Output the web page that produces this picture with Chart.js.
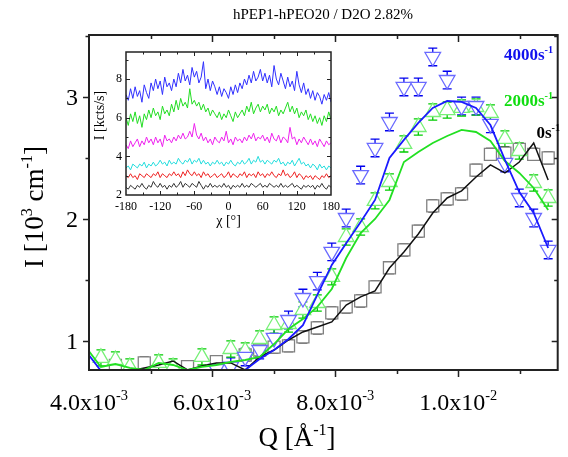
<!DOCTYPE html>
<html>
<head>
<meta charset="utf-8">
<script src="https://cdn.jsdelivr.net/npm/chart.js@4.4.1/dist/chart.umd.min.js"></script>
<style>
  html, body { margin:0; padding:0; background:#fff; }
  #wrap { position:relative; width:568px; height:457px; }
  #main { position:absolute; left:0; top:0; }
  #inset { position:absolute; left:86px; top:42px; }
</style>
</head>
<body>
<div id="wrap">
  <canvas id="main" width="568" height="457"></canvas>
  <canvas id="inset" width="254" height="190"></canvas>
</div>
<script>
/* ================= DATA (main) ================= */
const Q = [0.003960,0.004194,0.004429,0.004663,0.004898,0.005132,0.005366,0.005601,0.005835,0.006070,
           0.006304,0.006538,0.006773,0.007007,0.007242,0.007476,0.007710,0.007945,0.008179,0.008414,
           0.008648,0.008882,0.009117,0.009351,0.009586,0.009820,0.010054,0.010289,0.010523,0.010758,
           0.010992,0.011226,0.011461];

// 0 s-1 : squares + line
const sq0 = [null,null,0.80,null,0.82,null,null,0.79,null,0.83,
             null,0.885,0.926,0.95,0.96,1.033,1.107,1.23,1.279,1.328,
             1.443,1.60,1.746,1.90,2.107,2.164,2.205,2.40,2.53,2.54,
             2.57,2.53,2.50];
const line0 = [0.762,0.762,0.762,0.754,0.779,0.803,0.836,0.762,0.795,0.82,
               0.82,0.762,0.869,0.926,1.008,1.074,1.115,1.156,1.295,1.361,
               1.41,1.598,1.73,1.877,2.049,2.172,2.23,2.344,2.443,2.377,
               2.467,2.623,2.32];

// 2000 s-1 : up triangles + line
const tri2000 = [null,0.861,0.844,0.787,null,0.82,0.787,null,0.869,null,
                 0.934,0.918,1.016,1.131,1.139,1.254,1.311,1.525,1.852,1.934,
                 2.148,2.303,2.615,2.754,2.877,2.893,2.91,2.918,2.869,2.656,
                 2.557,2.295,2.172];
const line2000 = [0.943,0.787,0.811,0.779,0.762,0.82,0.803,0.762,0.787,0.803,
                  0.828,0.844,0.869,0.975,1.098,1.18,1.279,1.426,1.68,1.885,
                  2.0,2.156,2.467,2.549,2.623,2.68,2.73,2.713,2.639,2.475,
                  2.377,2.254,2.074];

// 4000 s-1 : down triangles + line
const tri4000 = [null,null,null,null,null,null,null,null,null,0.77,
                 0.79,0.869,0.926,1.025,1.172,1.352,1.49,1.73,2.008,2.36,
                 2.582,2.795,3.082,3.082,3.328,3.139,2.926,2.926,2.779,2.459,
                 2.172,2.008,1.746];
const line4000 = [0.91,0.755,0.755,0.755,0.755,0.755,0.755,0.755,0.755,0.755,
                  0.755,0.762,0.852,0.926,1.016,1.13,1.377,1.623,1.80,1.975,
                  2.156,2.50,2.648,2.787,2.91,2.967,2.959,2.91,2.77,2.484,
                  2.221,2.049,1.762];

const err0 = 0.048, err2000 = 0.066, err4000 = 0.072;

const yTicks = [1, 2, 3];
const xTicks = [0.004, 0.006, 0.008, 0.010];
const xTickBase = ["4.0x10", "6.0x10", "8.0x10", "1.0x10"];
const xTickExp  = ["-3", "-3", "-3", "-2"];

/* ================= DATA (inset) ================= */
const chi = [-180,-176,-172,-168,-164,-160,-156,-152,-148,-144,-140,-136,-132,-128,-124,-120,-116,-112,-108,-104,
             -100,-96,-92,-88,-84,-80,-76,-72,-68,-64,-60,-56,-52,-48,-44,-40,-36,-32,-28,-24,
             -20,-16,-12,-8,-4,0,4,8,12,16,20,24,28,32,36,40,44,48,52,56,
             60,64,68,72,76,80,84,88,92,96,100,104,108,112,116,120,124,128,132,136,
             140,144,148,152,156,160,164,168,172,176,180];

const azBlue = [7.2,6.9,7.5,7.0,7.6,7.1,7.4,6.8,7.7,7.3,7.0,
                7.8,7.4,8.0,7.5,7.9,7.2,8.1,7.6,7.8,7.4,
                8.0,7.6,8.3,7.8,8.5,7.9,8.2,7.7,8.6,8.1,
                8.4,7.8,8.1,8.9,7.5,8.0,7.4,7.9,7.6,7.2,
                7.6,7.1,7.5,7.3,7.0,7.6,7.2,7.7,7.3,7.8,
                7.5,8.0,7.7,8.2,7.8,8.4,7.9,8.1,8.5,7.9,
                8.3,7.8,8.2,7.6,8.7,8.0,7.7,8.3,7.9,7.5,
                8.1,7.6,7.9,7.4,8.4,7.7,7.3,7.8,7.2,7.5,
                7.0,7.4,6.9,7.3,7.1,6.7,7.2,6.9,7.3,6.8];
const azGreen = [6.0,5.6,6.2,5.8,6.3,5.7,6.1,5.5,6.2,5.9,6.4,
                 6.0,6.5,6.1,6.3,5.9,6.6,6.2,6.4,6.1,6.7,
                 6.3,6.9,6.4,7.0,6.6,6.8,6.5,7.5,6.7,6.9,
                 6.6,6.8,6.4,6.7,6.3,6.5,6.1,6.4,6.2,6.0,
                 6.3,5.9,6.2,6.0,6.4,6.1,5.8,6.3,6.0,6.2,
                 6.4,6.1,6.6,6.3,6.8,6.2,6.5,6.7,6.3,6.6,
                 6.4,6.7,6.2,6.5,6.3,6.6,6.1,6.4,6.2,6.5,
                 6.8,6.3,6.6,6.2,6.5,6.0,6.3,6.1,6.4,5.9,
                 6.2,5.8,6.1,5.7,6.0,5.6,6.1,5.8,6.3,5.9];
const azMagenta = [4.6,4.4,4.8,4.5,4.7,4.9,4.5,4.8,4.6,5.0,4.7,
                   4.9,4.6,5.0,4.7,4.9,4.5,5.1,4.8,4.9,4.7,
                   5.0,4.8,5.1,4.9,5.2,4.9,5.0,5.3,5.0,5.7,
                   5.1,4.9,5.2,4.8,5.0,4.7,4.9,4.6,5.0,4.8,
                   4.7,5.0,4.8,5.3,4.7,4.9,4.6,5.0,4.8,4.9,
                   4.7,5.0,4.8,5.1,4.9,5.2,4.8,5.0,4.9,5.1,
                   4.8,5.0,4.7,5.2,4.9,4.8,5.1,4.7,5.0,4.9,
                   4.7,5.5,4.9,5.0,4.6,4.9,4.7,5.0,4.8,4.6,
                   4.9,4.6,4.8,4.5,4.9,4.7,4.5,4.8,4.6,4.7];
const azCyan = [3.4,3.5,3.3,3.6,3.5,3.4,3.6,3.5,3.7,3.4,3.6,
                3.5,3.7,3.5,3.6,3.8,3.6,3.7,3.5,3.8,3.6,
                3.7,3.6,3.9,3.7,3.6,3.8,3.7,3.9,3.6,3.8,
                3.7,3.9,3.6,3.8,3.6,3.7,3.5,3.7,3.6,3.8,
                3.6,3.7,3.5,3.7,3.6,3.8,3.6,3.5,3.7,3.6,
                3.8,3.6,3.7,3.9,3.6,3.8,3.7,4.0,3.7,3.8,
                3.6,3.8,3.7,3.6,3.8,3.7,3.9,3.6,3.7,3.5,
                3.7,3.6,3.8,3.5,3.7,3.9,3.6,3.7,3.5,3.6,
                3.4,3.6,3.5,3.3,3.6,3.4,3.5,3.3,3.5,3.4];
const azRed = [3.0,2.9,3.1,2.9,3.0,2.8,3.1,3.0,2.9,3.1,3.0,
               2.9,3.1,3.0,3.2,2.9,3.1,3.0,2.9,3.1,3.0,
               3.2,3.0,3.1,2.9,3.2,3.0,3.3,3.1,3.0,3.2,
               3.0,3.1,2.9,3.2,3.0,3.1,2.9,3.0,3.1,2.9,
               3.0,3.1,2.9,3.0,3.2,2.9,3.1,3.0,2.9,3.1,
               3.0,3.2,2.9,3.1,3.0,3.1,2.9,3.2,3.0,3.1,
               2.9,3.1,3.0,3.2,3.0,2.9,3.1,3.0,3.3,3.0,
               3.1,2.9,3.0,3.2,2.9,3.1,3.0,2.8,3.0,2.9,
               3.0,2.8,3.0,2.9,2.8,3.0,2.9,3.1,2.9,3.0];
const azBlack = [2.4,2.3,2.5,2.4,2.3,2.5,2.4,2.6,2.4,2.3,2.5,
                 2.4,2.7,2.5,2.4,2.6,2.4,2.5,2.3,2.5,2.4,
                 2.6,2.4,2.5,2.7,2.4,2.6,2.5,2.4,2.6,2.5,
                 2.4,2.7,2.5,2.3,2.5,2.4,2.6,2.4,2.5,2.4,
                 2.5,2.4,2.6,2.4,2.5,2.3,2.5,2.4,2.5,2.4,
                 2.6,2.4,2.5,2.4,2.6,2.5,2.4,2.5,2.6,2.4,
                 2.5,2.4,2.6,2.5,2.4,2.5,2.4,2.6,2.4,2.5,
                 2.4,2.5,2.6,2.4,2.5,2.4,2.3,2.5,2.4,2.5,
                 2.4,2.5,2.3,2.5,2.4,2.6,2.4,2.3,2.5,2.4];

const insetYTicks = [2, 4, 6, 8];
const insetXTicks = [-180, -120, -60, 0, 60, 120, 180];

/* ================= HELPERS ================= */
const SERIF = '"Liberation Serif", "Times New Roman", serif';

function pts(xs, ys){
  const out = [];
  ys.forEach((v,i)=>{ if(v !== null) out.push({x:xs[i], y:v}); });
  return out;
}

// parts: [[text, isSup], ...]
function drawRich(ctx, parts, x, y, size, align, weight){
  const w8 = weight || "normal";
  let w = 0;
  parts.forEach(p=>{
    ctx.font = w8 + " " + (p[1] ? size*0.6 : size) + "px " + SERIF;
    w += ctx.measureText(p[0]).width;
  });
  let cx = align === "center" ? x - w/2 : align === "right" ? x - w : x;
  ctx.textAlign = "left";
  ctx.textBaseline = "alphabetic";
  parts.forEach(p=>{
    ctx.font = w8 + " " + (p[1] ? size*0.6 : size) + "px " + SERIF;
    ctx.fillText(p[0], cx, p[1] ? y - size*0.4 : y);
    cx += ctx.measureText(p[0]).width;
  });
}

/* ================= MAIN PLUGINS ================= */
const errorBars = {
  id: "errorBars",
  beforeDatasetsDraw(chart){
    const {ctx, chartArea:a, scales:{x, y}} = chart;
    ctx.save();
    ctx.beginPath();
    ctx.rect(a.left, a.top, a.right - a.left, a.bottom - a.top);
    ctx.clip();
    chart.data.datasets.forEach(ds=>{
      if(!ds.err) return;
      ctx.strokeStyle = ds.errColor;
      ctx.lineWidth = 1.3;
      ds.data.forEach(p=>{
        const px = x.getPixelForValue(p.x);
        const y0 = y.getPixelForValue(p.y - ds.err);
        const y1 = y.getPixelForValue(p.y + ds.err);
        ctx.beginPath();
        ctx.moveTo(px, y0); ctx.lineTo(px, y1);
        ctx.moveTo(px-4.5, y0); ctx.lineTo(px+4.5, y0);
        ctx.moveTo(px-4.5, y1); ctx.lineTo(px+4.5, y1);
        ctx.stroke();
      });
    });
    ctx.restore();
  }
};

const mainDecor = {
  id: "mainDecor",
  afterDraw(chart){
    const {ctx, chartArea:a, scales:{x, y}} = chart;
    ctx.save();
    ctx.strokeStyle = "#222";
    ctx.fillStyle = "#000";

    // ticks
    ctx.lineWidth = 1.5;
    ctx.beginPath();
    for(let v = 1; v <= 3.5; v += 0.5){
      const py = Math.round(y.getPixelForValue(v)) + 0.5;
      const len = Number.isInteger(v) ? 6 : 3.5;
      ctx.moveTo(a.left - len, py); ctx.lineTo(a.left, py);
      ctx.moveTo(a.right, py); ctx.lineTo(a.right - len, py);
    }
    for(let k = 5; k <= 11; k++){
      const px = Math.round(x.getPixelForValue(k/1000)) + 0.5;
      const len = k % 2 === 0 ? 7 : 4;
      ctx.moveTo(px, a.bottom); ctx.lineTo(px, a.bottom + len);
      ctx.moveTo(px, a.top); ctx.lineTo(px, a.top + len);
    }
    ctx.stroke();

    // frame
    ctx.lineWidth = 2;
    ctx.strokeRect(a.left, a.top, a.right - a.left, a.bottom - a.top);

    // tick labels
    ctx.textAlign = "right";
    ctx.textBaseline = "alphabetic";
    ctx.font = "24px " + SERIF;
    yTicks.forEach(v=>{
      ctx.fillText(String(v), 78, y.getPixelForValue(v) + 8);
    });
    xTicks.forEach((v,i)=>{
      drawRich(ctx, [[xTickBase[i], false], [xTickExp[i], true]], x.getPixelForValue(v), 410, 24, "center");
    });

    // axis titles
    drawRich(ctx, [["Q [", false], ["Å", false], ["-1", true], ["]", false]], 297, 446, 27, "center");
    ctx.save();
    ctx.translate(43, 207);
    ctx.rotate(-Math.PI/2);
    drawRich(ctx, [["I [10", false], ["3", true], [" cm", false], ["-1", true], ["]", false]], 0, 0, 27, "center");
    ctx.restore();

    // title
    ctx.textAlign = "center";
    ctx.font = "15px " + SERIF;
    ctx.fillText("hPEP1-hPEO20 / D2O 2.82%", 323, 19);

    // series labels
    ctx.fillStyle = "#1010ee";
    drawRich(ctx, [["4000s", false], ["-1", true]], 553, 60, 17, "right", "bold");
    ctx.fillStyle = "#10dd10";
    drawRich(ctx, [["2000s", false], ["-1", true]], 553, 106, 17, "right", "bold");
    ctx.fillStyle = "#000";
    drawRich(ctx, [["0s", false], ["-1", true]], 560, 138, 17, "right", "bold");
    ctx.restore();
  }
};

/* ================= MAIN CHART ================= */
new Chart(document.getElementById("main"), {
  type: "scatter",
  data: {
    datasets: [
      { data: pts(Q, line4000), showLine: true, borderColor: "#1a1aff", borderWidth: 1.8, pointRadius: 0, order: 0 },
      { data: pts(Q, line2000), showLine: true, borderColor: "#22e022", borderWidth: 1.8, pointRadius: 0, order: 0 },
      { data: pts(Q, line0), showLine: true, borderColor: "#111", borderWidth: 1.5, pointRadius: 0, order: 0 },
      { data: pts(Q, tri4000), pointStyle: "triangle", rotation: 180, pointRadius: 9,
        pointBorderColor: "#6a6aff", pointBackgroundColor: "#fff", pointBorderWidth: 1.3,
        err: err4000, errColor: "#0000ee", order: 1 },
      { data: pts(Q, tri2000), pointStyle: "triangle", pointRadius: 9,
        pointBorderColor: "#77f077", pointBackgroundColor: "#fff", pointBorderWidth: 1.3,
        err: err2000, errColor: "#00cc00", order: 2 },
      { data: pts(Q, sq0), pointStyle: "rect", pointRadius: 8.5,
        pointBorderColor: "#808080", pointBackgroundColor: "#fff", pointBorderWidth: 1.3,
        err: err0, errColor: "#000", order: 3 }
    ]
  },
  options: {
    responsive: false,
    animation: false,
    layout: { padding: { left: 89, right: 3, top: 35, bottom: 87 } },
    plugins: { legend: { display: false }, tooltip: { enabled: false } },
    scales: {
      x: { type: "linear", min: 0.004, max: 0.011616, display: false },
      y: { type: "linear", min: 0.762, max: 3.508, display: false }
    }
  },
  plugins: [errorBars, mainDecor]
});

/* ================= INSET ================= */
const insetDecor = {
  id: "insetDecor",
  afterDraw(chart){
    const {ctx, chartArea:a, scales:{x, y}} = chart;
    ctx.save();
    ctx.strokeStyle = "#222";
    ctx.fillStyle = "#000";
    ctx.lineWidth = 1;
    ctx.beginPath();
    for(let v = 3; v <= 9; v++){
      const py = Math.round(y.getPixelForValue(v)) + 0.5;
      const len = v % 2 === 0 ? 4 : 2.5;
      ctx.moveTo(a.left, py); ctx.lineTo(a.left + len, py);
      ctx.moveTo(a.right, py); ctx.lineTo(a.right - len, py);
    }
    for(let v = -150; v <= 150; v += 30){
      const px = Math.round(x.getPixelForValue(v)) + 0.5;
      const len = v % 60 === 0 ? 4 : 2.5;
      ctx.moveTo(px, a.bottom); ctx.lineTo(px, a.bottom - len);
      ctx.moveTo(px, a.top); ctx.lineTo(px, a.top + len);
    }
    ctx.stroke();
    ctx.lineWidth = 1.5;
    ctx.strokeRect(a.left, a.top, a.right - a.left, a.bottom - a.top);

    ctx.font = "12px " + SERIF;
    ctx.textAlign = "right";
    ctx.textBaseline = "middle";
    insetYTicks.forEach(v=> ctx.fillText(String(v), a.left - 4, y.getPixelForValue(v)));
    ctx.textAlign = "center";
    ctx.textBaseline = "alphabetic";
    insetXTicks.forEach(v=> ctx.fillText(String(v), x.getPixelForValue(v), a.bottom + 15));

    ctx.font = "14px " + SERIF;
    ctx.fillText("χ [°]", (a.left + a.right)/2, a.bottom + 30);
    ctx.save();
    ctx.translate(18, (a.top + a.bottom)/2 - 8);
    ctx.rotate(-Math.PI/2);
    ctx.fillText("I [kcts/s]", 0, 0);
    ctx.restore();
    ctx.restore();
  }
};

const insetLine = (vals, color) => ({
  data: pts(chi, vals), borderColor: color, borderWidth: 1, pointRadius: 0, tension: 0
});

new Chart(document.getElementById("inset"), {
  type: "line",
  data: {
    datasets: [
      insetLine(azBlue, "#3030ff"),
      insetLine(azGreen, "#22dd22"),
      insetLine(azMagenta, "#ee22ee"),
      insetLine(azCyan, "#22dddd"),
      insetLine(azRed, "#ee2222"),
      insetLine(azBlack, "#333")
    ]
  },
  options: {
    responsive: false,
    animation: false,
    layout: { padding: { left: 40, right: 9, top: 10, bottom: 37 } },
    plugins: { legend: { display: false }, tooltip: { enabled: false } },
    scales: {
      x: { type: "linear", min: -180, max: 180, display: false },
      y: { type: "linear", min: 2, max: 9.4, display: false }
    }
  },
  plugins: [insetDecor]
});
</script>
</body>
</html>
